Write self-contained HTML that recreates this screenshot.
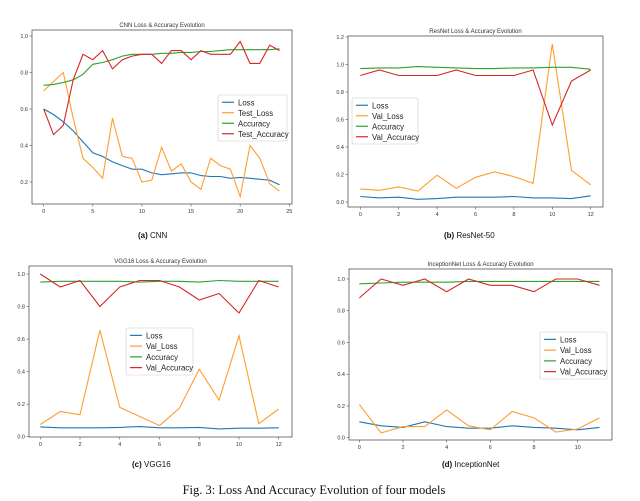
<!DOCTYPE html>
<html><head><meta charset="utf-8"><style>
body{margin:0;background:#fff;width:640px;height:501px;overflow:hidden;font-family:"Liberation Sans",sans-serif}
svg{position:absolute;left:0;top:0}
</style></head><body>
<svg id="fig" width="640" height="501" xmlns="http://www.w3.org/2000/svg"></svg>
<script>
const cnnLoss=[0.6,0.57,0.53,0.48,0.42,0.36,0.34,0.31,0.29,0.27,0.27,0.25,0.24,0.245,0.25,0.25,0.235,0.23,0.23,0.22,0.225,0.22,0.215,0.21,0.185];
const cnnTestLoss=[0.70,0.75,0.80,0.55,0.33,0.28,0.22,0.55,0.34,0.33,0.2,0.21,0.39,0.26,0.30,0.2,0.16,0.33,0.29,0.27,0.12,0.40,0.33,0.19,0.15];
const cnnAcc=[0.73,0.735,0.745,0.76,0.79,0.845,0.855,0.87,0.89,0.9,0.9,0.9,0.905,0.905,0.91,0.91,0.915,0.915,0.92,0.925,0.925,0.925,0.925,0.925,0.93];
const cnnTestAcc=[0.6,0.46,0.51,0.76,0.9,0.87,0.92,0.82,0.87,0.89,0.9,0.9,0.85,0.92,0.92,0.87,0.92,0.9,0.9,0.9,0.97,0.85,0.85,0.95,0.92];
const resLoss=[0.04,0.03,0.035,0.02,0.025,0.035,0.035,0.035,0.04,0.03,0.03,0.025,0.045];
const resValLoss=[0.095,0.085,0.11,0.08,0.195,0.10,0.18,0.22,0.185,0.135,1.15,0.23,0.125];
const resAcc=[0.97,0.975,0.975,0.985,0.98,0.975,0.97,0.97,0.975,0.975,0.98,0.98,0.965];
const resValAcc=[0.92,0.96,0.92,0.92,0.92,0.96,0.92,0.92,0.92,0.96,0.56,0.88,0.96];
const vggLoss=[0.06,0.055,0.055,0.055,0.057,0.062,0.055,0.055,0.057,0.048,0.052,0.052,0.055];
const vggValLoss=[0.075,0.155,0.135,0.655,0.18,0.125,0.068,0.175,0.415,0.225,0.62,0.08,0.17];
const vggAcc=[0.95,0.955,0.955,0.955,0.955,0.95,0.955,0.955,0.95,0.96,0.955,0.955,0.955];
const vggValAcc=[1.0,0.92,0.96,0.80,0.92,0.96,0.96,0.92,0.84,0.88,0.76,0.96,0.92];
const incLoss=[0.10,0.075,0.065,0.10,0.07,0.06,0.06,0.075,0.065,0.06,0.05,0.065];
const incValLoss=[0.21,0.03,0.07,0.07,0.175,0.075,0.05,0.165,0.125,0.035,0.055,0.125];
const incAcc=[0.97,0.975,0.98,0.98,0.98,0.985,0.985,0.985,0.985,0.985,0.985,0.985];
const incValAcc=[0.88,1.0,0.96,1.0,0.92,1.0,0.96,0.96,0.92,1.0,1.0,0.96];
const cnnXTicks=[0,5,10,15,20,25];
const cnnYTicks=[0.2,0.4,0.6,0.8,1.0];
const resXTicks=[0,2,4,6,8,10,12];
const resYTicks=[0.0,0.2,0.4,0.6,0.8,1.0,1.2];
const vggXTicks=[0,2,4,6,8,10,12];
const vggYTicks=[0.0,0.2,0.4,0.6,0.8,1.0];
const incXTicks=[0,2,4,6,8,10];
const incYTicks=[0.0,0.2,0.4,0.6,0.8,1.0];
const cnnNames=["Loss","Test_Loss","Accuracy","Test_Accuracy"];
const valNames=["Loss","Val_Loss","Accuracy","Val_Accuracy"];
const COLORS=["#1f77b4","#ff9e2c","#2ca02c","#d62728"];
const NS="http://www.w3.org/2000/svg";
const svg=document.getElementById('fig');
function mk(tag,attrs,parent,text){const e=document.createElementNS(NS,tag);for(const k in attrs)e.setAttribute(k,attrs[k]);if(text!==undefined)e.textContent=text;(parent||svg).appendChild(e);return e;}
function chart(cfg){
  const g=mk('g',{});
  
  
  const xs=v=>cfg.x0px+(v-0)*(cfg.x1px-cfg.x0px)/cfg.x1v;
  const ys=v=>cfg.y0px+(v-cfg.y0v)*(cfg.y1px-cfg.y0px)/(cfg.y1v-cfg.y0v);
  const fr=mk('rect',{x:cfg.l,y:cfg.t,width:cfg.r-cfg.l,height:cfg.b-cfg.t,fill:'#fff',stroke:'#555','stroke-width':0.8},g);
  
  
  const tt=mk('text',{x:(cfg.l+cfg.r)/2,y:cfg.t-3,'font-size':6,'text-anchor':'middle',fill:'#333'},g,cfg.title);
  
  
  cfg.xt.forEach(v=>{const x=xs(v);mk('line',{x1:x,x2:x,y1:cfg.b,y2:cfg.b+2.5,stroke:'#555','stroke-width':0.6},g);
    const t=mk('text',{x:x,y:cfg.b+9,'font-size':5.5,'text-anchor':'middle',fill:'#333'},g,String(v));
    
    });
  cfg.yt.forEach(v=>{const y=ys(v);mk('line',{x1:cfg.l-2.5,x2:cfg.l,y1:y,y2:y,stroke:'#555','stroke-width':0.6},g);
    const t=mk('text',{x:cfg.l-4,y:y+2,'font-size':5.5,'text-anchor':'end',fill:'#333'},g,v.toFixed(1));
    
    });
  cfg.series.forEach((s,i)=>{
    const p=mk('polyline',{points:s.map((v,j)=>xs(j).toFixed(1)+','+ys(v).toFixed(1)).join(' '),fill:'none',stroke:COLORS[i],'stroke-width':1.1},g);
    
    
  });
  const L=cfg.leg;
  const lg=mk('g',{},g);
  
  
  mk('rect',{x:L[0],y:L[1],width:L[2],height:L[3],fill:'#fff',stroke:'#ccc','stroke-width':0.6,rx:1.5},lg);
  const step=(L[3]-4)/4;
  cfg.names.forEach((n,i)=>{const y=L[1]+2+step*(i+0.5);
    mk('line',{x1:L[0]+4,x2:L[0]+16,y1:y,y2:y,stroke:COLORS[i],'stroke-width':1.2},lg);
    const t=mk('text',{x:L[0]+20,y:y+3,'font-size':7.8,fill:'#222'},lg,n);
    
    });
  const c=mk('text',{x:cfg.cap[0],y:cfg.cap[1],'font-size':8,fill:'#111'},g);
  
  
  mk('tspan',{'font-weight':'bold'},c,cfg.cap[2]);
  mk('tspan',{},c,' '+cfg.cap[3]);
}
chart({id:'cnn-chart',title:'CNN Loss & Accuracy Evolution',l:32,r:292,t:30,b:204,x0px:43.7,x1px:289.3,x1v:25,y0v:0.2,y0px:182,y1v:1.0,y1px:36,xt:cnnXTicks,yt:cnnYTicks,series:[cnnLoss,cnnTestLoss,cnnAcc,cnnTestAcc],names:cnnNames,leg:[218,95,69,46],cap:[138,238,'(a)','CNN']});
chart({id:'resnet-chart',title:'ResNet Loss & Accuracy Evolution',l:348,r:603,t:36,b:207,x0px:360.3,x1px:590.7,x1v:12,y0v:0,y0px:202,y1v:1.2,y1px:37,xt:resXTicks,yt:resYTicks,series:[resLoss,resValLoss,resAcc,resValAcc],names:valNames,leg:[352,98,66,46],cap:[444,238,'(b)','ResNet-50']});
chart({id:'vgg16-chart',title:'VGG16 Loss & Accuracy Evolution',l:29,r:292,t:266,b:437,x0px:40.3,x1px:278.7,x1v:12,y0v:0,y0px:436.7,y1v:1.0,y1px:274,xt:vggXTicks,yt:vggYTicks,series:[vggLoss,vggValLoss,vggAcc,vggValAcc],names:valNames,leg:[126,328,67,47],cap:[132,467,'(c)','VGG16']});
chart({id:'inceptionnet-chart',title:'InceptionNet Loss & Accuracy Evolution',l:349,r:612,t:269,b:440,x0px:359.3,x1px:577.7,x1v:10,y0v:0,y0px:437.7,y1v:1.0,y1px:279,xt:incXTicks,yt:incYTicks,series:[incLoss,incValLoss,incAcc,incValAcc],names:valNames,leg:[540,332,67,47],cap:[442,467,'(d)','InceptionNet']});
const fc=mk('text',{x:314,y:494,'font-size':12.5,'text-anchor':'middle',fill:'#111','font-family':'Liberation Serif, serif'},svg,'Fig. 3: Loss And Accuracy Evolution of four models');


</script>
</body></html>
